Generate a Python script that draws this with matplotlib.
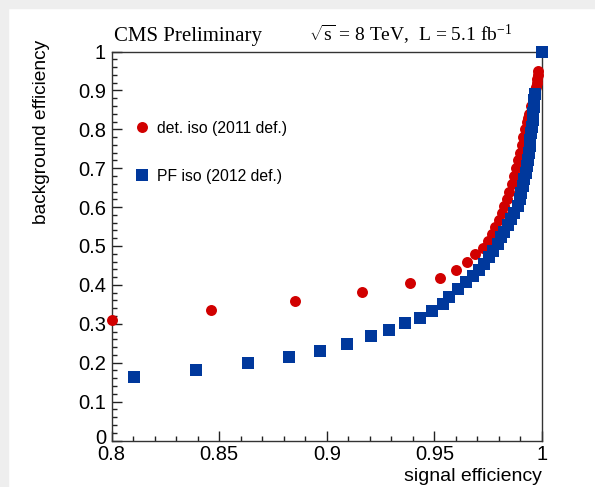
import matplotlib
matplotlib.use("Agg")
import matplotlib.pyplot as plt
from matplotlib.patches import Rectangle
from matplotlib.ticker import FixedLocator, MultipleLocator
from matplotlib.transforms import ScaledTranslation

# det. iso (2011 def.) - red circles
red_x = [0.8003, 0.8464, 0.8853, 0.9166, 0.9387, 0.9526, 0.9600, 0.9651, 0.9690,
         0.9724, 0.9747, 0.9766, 0.9783, 0.9799, 0.9813, 0.9825, 0.9836, 0.9848,
         0.9859, 0.9869, 0.9879, 0.9888, 0.9897, 0.9905, 0.9913, 0.9921, 0.9929,
         0.9935, 0.9941, 0.9950, 0.9960, 0.9968, 0.9972, 0.9976, 0.9979, 0.9981, 0.9983]
red_y = [0.310, 0.336, 0.358, 0.382, 0.405, 0.419, 0.4385, 0.460, 0.479,
         0.496, 0.512, 0.531, 0.548, 0.567, 0.584, 0.603, 0.620, 0.640,
         0.660, 0.680, 0.700, 0.720, 0.740, 0.760, 0.780, 0.800, 0.820,
         0.830, 0.840, 0.860, 0.880, 0.900, 0.910, 0.920, 0.930, 0.940, 0.950]

# PF iso (2012 def.) - blue squares
blue_x = [0.8104, 0.8394, 0.8636, 0.8825, 0.8967, 0.9096, 0.9205, 0.9287, 0.9363,
          0.9433, 0.9487, 0.9538, 0.9567, 0.9608, 0.9647, 0.9678, 0.9706, 0.9729,
          0.9752, 0.9774, 0.9794, 0.9809, 0.9825, 0.9840, 0.9856, 0.9871, 0.9887,
          0.9896, 0.9904, 0.9911, 0.9918, 0.9924, 0.9929, 0.9934, 0.9938, 0.9942,
          0.9946, 0.9950, 0.9953, 0.9956, 0.9959, 0.9962, 0.9965, 0.9968, 1.0]
blue_y = [0.163, 0.180, 0.199, 0.214, 0.230, 0.249, 0.268, 0.285, 0.301,
          0.314, 0.332, 0.351, 0.368, 0.390, 0.407, 0.424, 0.439, 0.455,
          0.471, 0.488, 0.505, 0.522, 0.537, 0.554, 0.569, 0.586, 0.603,
          0.620, 0.637, 0.654, 0.671, 0.688, 0.705, 0.722, 0.739, 0.756,
          0.773, 0.790, 0.807, 0.824, 0.841, 0.858, 0.875, 0.890, 1.0]

series_labels = ["det. iso (2011 def.)", "PF iso (2012 def.)"]
x_ticks = [0.8, 0.85, 0.9, 0.95, 1.0]
x_ticklabels = ["0.8", "0.85", "0.9", "0.95", "1"]
y_ticks = [0.0, 0.1, 0.2, 0.3, 0.4, 0.5, 0.6, 0.7, 0.8, 0.9, 1.0]
y_ticklabels = ["0", "0.1", "0.2", "0.3", "0.4", "0.5", "0.6", "0.7", "0.8", "0.9", "1"]

plt.rcParams["font.family"] = ["Liberation Sans", "DejaVu Sans"]
plt.rcParams["mathtext.fontset"] = "custom"
plt.rcParams["mathtext.rm"] = "Liberation Serif"
plt.rcParams["mathtext.it"] = "Liberation Serif:italic"

W, H = 595, 487
fig = plt.figure(figsize=(W / 100, H / 100), dpi=100)

# light grey screenshot edges
fig.patches.append(Rectangle((0, 1 - 8 / H), 1, 8 / H, transform=fig.transFigure,
                             color="#eeeeee", zorder=0))
fig.patches.append(Rectangle((0, 0), 8 / W, 1, transform=fig.transFigure,
                             color="#eeeeee", zorder=0))

left, right, top, bottom = 111.5, 542, 51.5, 440.5
ax = fig.add_axes([left / W, 1 - bottom / H, (right - left) / W, (bottom - top) / H])

red_col = "#d10000"
blue_col = "#00389c"
ax.plot(red_x, red_y, "o", color=red_col, markersize=7.9, markeredgewidth=0,
        clip_on=False, zorder=3, label=series_labels[0])
ax.plot(blue_x, blue_y, "s", color=blue_col, markersize=8.3, markeredgewidth=0,
        clip_on=False, zorder=4, label=series_labels[1])

ax.set_xlim(0.8, 1.0)
ax.set_ylim(0.0, 1.0)
ax.xaxis.set_major_locator(FixedLocator(x_ticks))
ax.set_xticklabels(x_ticklabels)
ax.xaxis.set_minor_locator(MultipleLocator(0.01))
ax.yaxis.set_major_locator(FixedLocator(y_ticks))
ax.set_yticklabels(y_ticklabels)
ax.yaxis.set_minor_locator(MultipleLocator(0.02))

ax.tick_params(which="both", direction="in", top=False, right=False,
               colors="#222222", labelcolor="black", width=1.0)
ax.tick_params(which="major", length=7.2, labelsize=14.5)
ax.tick_params(axis="y", which="major", pad=4)
ax.tick_params(axis="x", which="major", pad=3)
ax.tick_params(which="minor", length=3.6)
for sp in ax.spines.values():
    sp.set_color("#333333")
    sp.set_linewidth(1.0)

# root-style: the "0" on the y axis sits a little above the corner
zero_lab = ax.get_yticklabels()[0]
zero_lab.set_transform(zero_lab.get_transform() + ScaledTranslation(0, 3 / 72, fig.dpi_scale_trans))

leg = ax.legend(loc="upper left", bbox_to_anchor=(0.052, 0.822), frameon=False,
                fontsize=11.3, numpoints=1, handlelength=1.0, handletextpad=0.45,
                labelspacing=2.1, borderpad=0, borderaxespad=0)

fig.text(114 / W, 1 - 41 / H, "CMS Preliminary", family="Liberation Serif",
         fontsize=15, va="baseline", ha="left")
fig.text(309 / W, 1 - 41 / H, r"$\sqrt{\mathrm{s}}$ = 8 TeV,  L = 5.1 fb$^{\mathrm{-1}}$",
         family="Liberation Serif", fontsize=14, va="baseline", ha="left")

fig.text(42 / W, 1 - 40 / H, "background efficiency", rotation=90,
         ha="center", va="top", fontsize=13.8)
fig.text(542 / W, 1 - 481 / H, "signal efficiency", ha="right", va="baseline",
         fontsize=14)

fig.savefig("out.png", dpi=100)
